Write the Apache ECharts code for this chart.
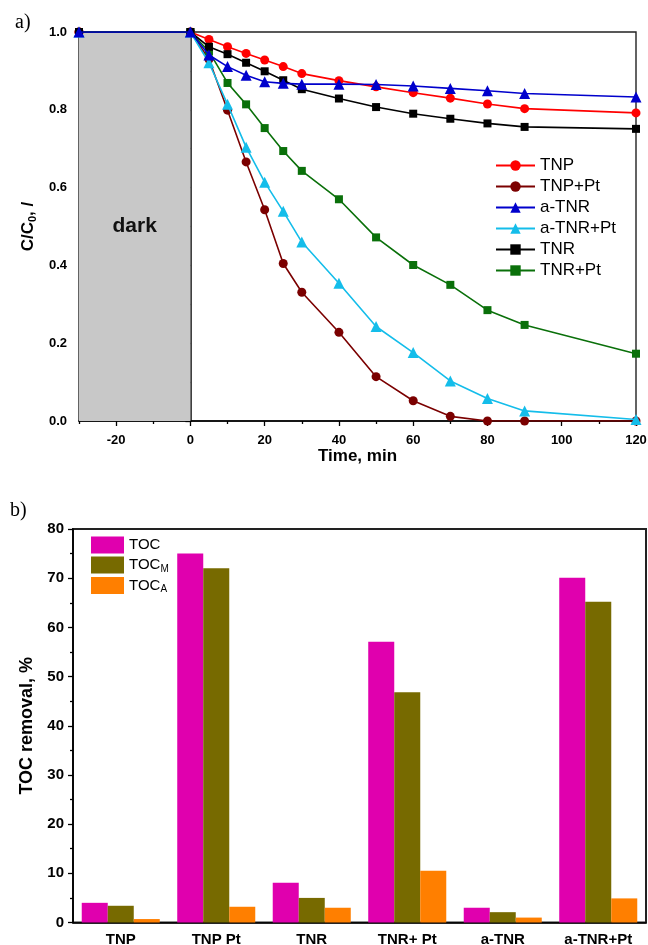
<!DOCTYPE html>
<html>
<head>
<meta charset="utf-8">
<script src="https://cdn.jsdelivr.net/npm/echarts@6/dist/echarts.min.js"></script>
<style>
  html, body { margin: 0; padding: 0; background: #fff; }
  #chart { width: 648px; height: 945px; }
</style>
</head>
<body>
<div id="chart"></div>
<script>
// ---- Panel a): photocatalytic degradation, C/C0 vs time ----
const timeMin = [-30, 0, 5, 10, 15, 20, 25, 30, 40, 50, 60, 70, 80, 90, 120];
const TNP      = [1, 1, 0.981, 0.962, 0.945, 0.928, 0.911, 0.893, 0.875, 0.859, 0.844, 0.830, 0.815, 0.803, 0.792];
const TNP_Pt   = [1, 1, 0.930, 0.799, 0.666, 0.543, 0.405, 0.331, 0.228, 0.114, 0.052, 0.012, 0, 0, 0];
const aTNR     = [1, 1, 0.941, 0.911, 0.889, 0.872, 0.868, 0.866, 0.866, 0.865, 0.861, 0.855, 0.849, 0.842, 0.833];
const aTNR_Pt  = [1, 1, 0.921, 0.814, 0.704, 0.614, 0.539, 0.460, 0.354, 0.243, 0.176, 0.103, 0.058, 0.026, 0.004];
const TNR      = [1, 1, 0.962, 0.943, 0.921, 0.899, 0.876, 0.853, 0.829, 0.807, 0.790, 0.777, 0.765, 0.756, 0.751];
const TNR_Pt   = [1, 1, 0.950, 0.869, 0.814, 0.753, 0.694, 0.643, 0.570, 0.472, 0.401, 0.350, 0.285, 0.247, 0.173];

const darkPeriod = [-30, 0];
const timeMajorTicks = [-20, 0, 20, 40, 60, 80, 100, 120];
const timeMinorTicks = [-30, -10, 10, 30, 50, 70, 90, 110];

// ---- Panel b): TOC removal per sample ----
const samples = ['TNP', 'TNP Pt', 'TNR', 'TNR+ Pt', 'a-TNR', 'a-TNR+Pt'];
const TOC   = [4.0, 75.0, 8.1, 57.1, 3.0, 70.1];
const TOC_M = [3.4, 72.0, 5.0, 46.8, 2.1, 65.2];
const TOC_A = [0.7, 3.2, 3.0, 10.5, 1.0, 4.9];

const FONT = "'Liberation Sans', Arial, sans-serif";
const pairs = (ys) => timeMin.map((t, i) => [t, ys[i]]);

function lineSeries(name, values, color, symbol, size, z) {
  return {
    name: name,
    type: 'line',
    xAxisIndex: 0,
    yAxisIndex: 0,
    data: pairs(values),
    symbol: symbol,
    symbolSize: size,
    z: z,
    lineStyle: { color: color, width: 1.6 },
    itemStyle: { color: color },
    emphasis: { disabled: true },
    animation: false
  };
}

const axisLineStyle = { color: '#000', width: 1.5 };

const option = {
  backgroundColor: '#fff',
  animation: false,
  textStyle: { fontFamily: FONT },
  graphic: [
    { type: 'text', left: 15, top: 13, style: { text: 'a)', font: "20px 'Liberation Serif', serif", fill: '#000' } },
    { type: 'text', left: 10, top: 501, style: { text: 'b)', font: "20px 'Liberation Serif', serif", fill: '#000' } }
  ],
  grid: [
    { left: 79, top: 32, width: 557, height: 389, show: true, borderColor: '#222', borderWidth: 1.4,
      containLabel: false, outerBoundsMode: 'none' },
    { left: 73, top: 529, width: 573, height: 393.5, show: true, borderColor: '#222', borderWidth: 2,
      containLabel: false, outerBoundsMode: 'none' }
  ],
  legend: [
    {
      data: ['TNP', 'TNP+Pt', 'a-TNR', 'a-TNR+Pt', 'TNR', 'TNR+Pt'],
      orient: 'vertical',
      left: 495,
      top: 155,
      padding: 0,
      itemWidth: 39,
      itemHeight: 13,
      itemGap: 0,
      textStyle: { fontFamily: FONT, fontSize: 17, color: '#000', lineHeight: 21 },
      selectedMode: false
    },
    {
      data: ['TOC', 'TOC_M', 'TOC_A'],
      orient: 'vertical',
      left: 91,
      top: 536.5,
      padding: 0,
      itemWidth: 33,
      itemHeight: 17,
      itemGap: 3,
      icon: 'rect',
      selectedMode: false,
      formatter: function (name) {
        if (name === 'TOC_M') return '{m|TOC}{s|M}';
        if (name === 'TOC_A') return '{m|TOC}{s|A}';
        return '{m|TOC}';
      },
      textStyle: {
        fontFamily: FONT, color: '#000',
        rich: {
          m: { fontSize: 15, fontFamily: FONT, lineHeight: 18, color: '#000' },
          s: { fontSize: 10, fontFamily: FONT, lineHeight: 10, verticalAlign: 'bottom', color: '#000' }
        }
      }
    }
  ],
  xAxis: [
    {
      type: 'value', gridIndex: 0, position: 'bottom',
      min: -30, max: 120,
      name: 'Time, min', nameLocation: 'middle', nameGap: 25,
      nameTextStyle: { fontFamily: FONT, fontSize: 17, fontWeight: 'bold', color: '#000' },
      axisLine: { show: true, onZero: false, lineStyle: axisLineStyle },
      axisTick: { show: true, length: 5, customValues: timeMajorTicks, lineStyle: { color: '#000', width: 1.3 } },
      axisLabel: { customValues: timeMajorTicks, margin: 13, fontFamily: FONT, fontSize: 13, fontWeight: 'bold', color: '#000' },
      splitLine: { show: false }
    },
    {
      type: 'value', gridIndex: 0, position: 'bottom',
      min: -30, max: 120,
      axisLine: { show: false },
      axisTick: { show: true, length: 3, customValues: timeMinorTicks, lineStyle: { color: '#000', width: 1.3 } },
      axisLabel: { show: false },
      splitLine: { show: false }
    },
    {
      type: 'category', gridIndex: 1, data: samples,
      axisLine: { show: true, lineStyle: axisLineStyle },
      axisTick: { show: false },
      axisLabel: { margin: 10, fontFamily: FONT, fontSize: 15, fontWeight: 'bold', color: '#000', interval: 0 },
      splitLine: { show: false }
    }
  ],
  yAxis: [
    {
      type: 'value', gridIndex: 0, min: 0, max: 1, interval: 0.2,
      name: '{a|C/C}{b|0}{a|, /}', nameLocation: 'middle', nameGap: 40,
      nameTextStyle: {
        rich: {
          a: { fontFamily: FONT, fontSize: 17, fontWeight: 'bold', color: '#000', lineHeight: 20 },
          b: { fontFamily: FONT, fontSize: 11, fontWeight: 'bold', color: '#000', lineHeight: 11, verticalAlign: 'bottom' }
        }
      },
      axisLine: { show: true, lineStyle: axisLineStyle },
      axisTick: { show: true, length: 5, lineStyle: { color: '#000', width: 1.3 } },
      minorTick: { show: true, splitNumber: 2, length: 3, lineStyle: { color: '#000', width: 1.3 } },
      axisLabel: { margin: 12, fontFamily: FONT, fontSize: 13, fontWeight: 'bold', color: '#000',
        formatter: (v) => v.toFixed(1) },
      splitLine: { show: false }
    },
    {
      type: 'value', gridIndex: 1, min: 0, max: 80, interval: 10,
      name: 'TOC removal, %', nameLocation: 'middle', nameGap: 34,
      nameTextStyle: { fontFamily: FONT, fontSize: 18, fontWeight: 'bold', color: '#000' },
      axisLine: { show: true, lineStyle: axisLineStyle },
      axisTick: { show: true, length: 5, lineStyle: { color: '#000', width: 1.3 } },
      minorTick: { show: true, splitNumber: 2, length: 3, lineStyle: { color: '#000', width: 1.3 } },
      axisLabel: { margin: 9, fontFamily: FONT, fontSize: 15, fontWeight: 'bold', color: '#000' },
      splitLine: { show: false }
    }
  ],
  series: [
    {
      name: 'dark-period',
      type: 'line',
      xAxisIndex: 0, yAxisIndex: 0,
      data: [],
      z: 1,
      silent: true,
      markArea: {
        silent: true,
        itemStyle: { color: '#c8c8c8' },
        label: {
          show: true, position: 'inside', fontFamily: FONT, fontSize: 21, fontWeight: 'bold', color: '#111'
        },
        data: [[
          { name: 'dark', xAxis: darkPeriod[0], yAxis: 0 },
          { xAxis: darkPeriod[1], yAxis: 1 }
        ]]
      }
    },
    lineSeries('TNP', TNP, '#ff0000', 'circle', 9, 2),
    lineSeries('TNP+Pt', TNP_Pt, '#7b0000', 'circle', 9, 2),
    lineSeries('a-TNR', aTNR, '#0000cc', 'triangle', 11, 4),
    lineSeries('a-TNR+Pt', aTNR_Pt, '#14bdea', 'triangle', 11, 3),
    lineSeries('TNR', TNR, '#000000', 'rect', 8, 3),
    lineSeries('TNR+Pt', TNR_Pt, '#0a700a', 'rect', 8, 2),
    {
      name: 'TOC', type: 'bar', xAxisIndex: 2, yAxisIndex: 1, data: TOC,
      barGap: '0%', barCategoryGap: '18.3%',
      itemStyle: { color: '#e000ae' }, emphasis: { disabled: true }
    },
    {
      name: 'TOC_M', type: 'bar', xAxisIndex: 2, yAxisIndex: 1, data: TOC_M,
      barGap: '0%', barCategoryGap: '18.3%',
      itemStyle: { color: '#776a00' }, emphasis: { disabled: true }
    },
    {
      name: 'TOC_A', type: 'bar', xAxisIndex: 2, yAxisIndex: 1, data: TOC_A,
      barGap: '0%', barCategoryGap: '18.3%',
      itemStyle: { color: '#ff7f00' }, emphasis: { disabled: true }
    }
  ]
};

const chart = echarts.init(document.getElementById('chart'), null, { renderer: 'canvas', width: 648, height: 945 });
chart.setOption(option);
</script>
</body>
</html>
